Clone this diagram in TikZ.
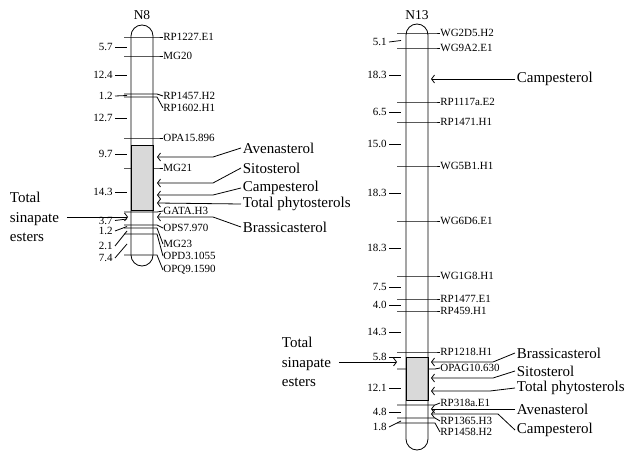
\documentclass[tikz,border=0pt]{standalone}
\usepackage{fontspec}
\setmainfont{Liberation Serif}
\usetikzlibrary{arrows.meta}

\begin{document}
\begin{tikzpicture}[x=1pt, y=-1pt, line width=0.8pt,
    chrom/.style={draw, rounded corners=11pt},
    qtlzone/.style={fill=gray!30, draw},
    mlabel/.style={anchor=west, inner sep=0pt, font=\fontsize{11}{12}\selectfont},
    dist/.style={anchor=east, inner sep=0pt, font=\fontsize{11}{12}\selectfont},
    trait/.style={anchor=west, inner sep=1.5pt, font=\fontsize{15}{19.5}\selectfont},
    title/.style={font=\fontsize{13.5}{15}\selectfont},
    qtl/.style={-{Straight Barb[length=3pt,width=8pt]}}
]
    \useasboundingbox (0,0) rectangle (633,452);

    % N8
    \node[title] (n8) at (142,15) {N8};
    \foreach \y/\ly/\name [count=\i] in {37/37/RP1227.E1, 56/56/MG20, 94/96/RP1457.H2,
        97/108/RP1602.H1, 138/138/OPA15.896, 168/168/MG21, 212/211/GATA.H3,
        225/228/OPS7.970, 228/244/MG23, 234/256/OPD3.1055, 255/270/OPQ9.1590} {
        \node[mlabel] (n8m\i) at (163,\ly) {\name};
        \draw (124,\y) -- (157,\y) -- (n8m\i.west);
    }
    \foreach \ly/\ty/\d [count=\i] in {47/47/5.7, 75/75/12.4, 96/95.5/1.2, 118/118/12.7,
        154/154/9.7, 192/192/14.3, 220.5/219/3.7, 231/226.5/1.2, 246/231/2.1, 258/244/7.4} {
        \node[dist] (n8d\i) at (113,\ly) {\d};
        \draw ([xshift=2pt]n8d\i.east) -- (127,\ty);
    }
    \draw[qtlzone] (131,145) rectangle (153,210);
    \draw[chrom] (131,25) rectangle (153,266);

    \node[trait, align=left] (tse8) at (8,217) {Total\\sinapate\\esters};
    \coordinate (sin8) at (128,217);
    \draw[qtl] ([xshift=6pt]tse8.east) -- (sin8 |- tse8.east);

    \node[trait] (aven8) at (241,148) {Avenasterol};
    \node[trait] (sito8) at (241,168) {Sitosterol};
    \node[trait] (camp8) at (241,188) {Campesterol};
    \node[trait] (tphy8) at (241,204) {Total phytosterols};
    \node[trait] (bras8) at (241,227) {Brassicasterol};
    \draw[qtl] (aven8.west) -- (213,157) -- (157,157);
    \draw[qtl] (sito8.west) -- (213,183) -- (157,183);
    \draw[qtl] (camp8.west) -- (213,195) -- (157,195);
    \draw[qtl] (tphy8.west) -- (157,203);
    \draw[qtl] (bras8.west) -- (213,217) -- (157,217);

    % N13
    \node[title] (n13) at (417,15) {N13};
    \foreach \y/\ly/\name [count=\i] in {33/33/WG2D5.H2, 48/48/WG9A2.E1, 102/102/RP1117a.E2,
        122/122/RP1471.H1, 166/166/WG5B1.H1, 221/221/WG6D6.E1, 276/276/WG1G8.H1,
        299/299/RP1477.E1, 311/311/RP459.H1, 352/352/RP1218.H1, 369/368/OPAG10.630,
        405/403/RP318a.E1, 418/421/RP1365.H3, 423/432/RP1458.H2} {
        \node[mlabel] (n13m\i) at (440,\ly) {\name};
        \draw (397,\y) -- (435,\y) -- (n13m\i.west);
    }
    \foreach \ly/\ty/\d [count=\i] in {42/40.5/5.1, 75/75/18.3, 112/112/6.5, 144/144/15.0,
        193/193/18.3, 248/248/18.3, 287/287/7.5, 305/305/4.0, 332/332/14.3,
        357/357/5.8, 388/388/12.1, 412/412/4.8, 427/421/1.8} {
        \node[dist] (n13d\i) at (387,\ly) {\d};
        \draw ([xshift=2pt]n13d\i.east) -- (401,\ty);
    }
    \draw[qtlzone] (406,357) rectangle (428,400);
    \draw[chrom] (406,24) rectangle (428,450);

    \node[trait, align=left] (tse13) at (280,362) {Total\\sinapate\\esters};
    \coordinate (sin13) at (397,362);
    \draw[qtl] ([xshift=6pt]tse13.east) -- (sin13 |- tse13.east);

    \node[trait] (camp13a) at (515,79) {Campesterol};
    \node[trait] (bras13) at (515,353) {Brassicasterol};
    \node[trait] (sito13) at (515,371) {Sitosterol};
    \node[trait] (tphy13) at (515,388) {Total phytosterols};
    \node[trait] (aven13) at (515,409) {Avenasterol};
    \node[trait] (camp13b) at (515,430) {Campesterol};
    \draw[qtl] (camp13a.west) -- (431,79);
    \draw[qtl] (bras13.west) -- (493,362) -- (431,362);
    \draw[qtl] (sito13.west) -- (493,378) -- (431,378);
    \draw[qtl] (tphy13.west) -- (490,391) -- (431,391);
    \draw[qtl] (aven13.west) -- (431,409);
    \draw[qtl] (camp13b.west) -- (498,414) -- (431,414);
\end{tikzpicture}
\end{document}
